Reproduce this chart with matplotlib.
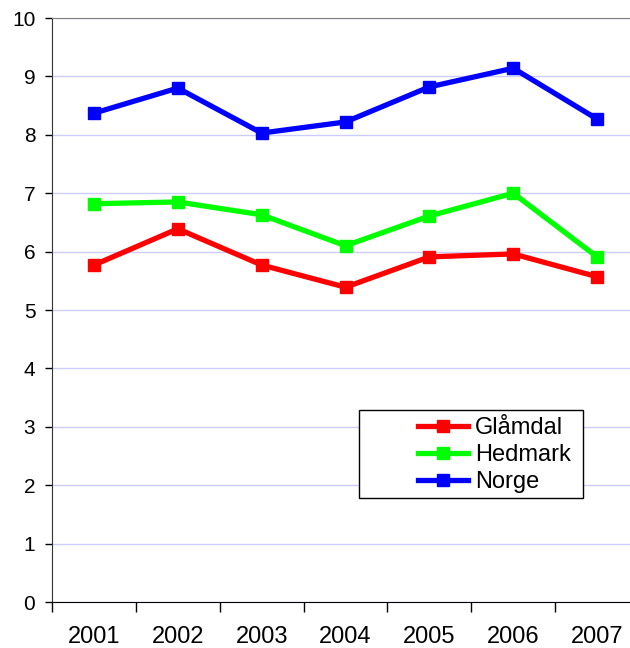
import matplotlib
matplotlib.use("Agg")
import matplotlib.pyplot as plt
from matplotlib.patches import Rectangle
import numpy as np

plt.rcParams['font.family'] = ['Liberation Sans', 'DejaVu Sans']

years = ["2001", "2002", "2003", "2004", "2005", "2006", "2007"]
glamdal = [5.77, 6.39, 5.77, 5.39, 5.91, 5.96, 5.57]
hedmark = [6.82, 6.85, 6.63, 6.10, 6.61, 7.00, 5.91]
norge = [8.37, 8.80, 8.03, 8.22, 8.82, 9.14, 8.27]

fig = plt.figure(figsize=(6.3, 6.48), dpi=100)
ax = fig.add_axes([52/630, 1-602/648, 587/630, 584/648])

x = np.arange(len(years))
for vals, col, lab in [(glamdal, '#ff0000', 'Glåmdal'),
                       (hedmark, '#00ff00', 'Hedmark'),
                       (norge, '#0000ff', 'Norge')]:
    ax.plot(x, vals, color=col, lw=3.8, marker='s', markersize=9,
            label=lab, solid_joinstyle='miter')

ax.set_xlim(-0.5, len(years)-0.5)
ax.set_ylim(0, 10)
ax.set_yticks(range(0, 11))
ax.set_xticks(x)
ax.set_xticklabels(years)
ax.set_xticks(np.arange(-0.5, len(years)), minor=True)
ax.tick_params(axis='x', which='major', length=0, labelsize=17, pad=17)
ax.tick_params(axis='x', which='minor', length=7, width=1, direction='out')
ax.tick_params(axis='y', length=5, width=1, labelsize=15, pad=7)
ax.grid(axis='y', color='#ccccff', lw=1)
ax.set_axisbelow(True)
ax.spines['top'].set_color('#808080')
ax.spines['right'].set_visible(False)
ax.spines['left'].set_color('#333333')

# legend frame
ax.add_patch(Rectangle((359/630, 1-498/648), 224/630, 88/648,
                       transform=fig.transFigure, facecolor='white',
                       edgecolor='black', lw=1, zorder=4, clip_on=False))
leg = ax.legend(loc='center right', bbox_to_anchor=(571/630, 1-455/648),
                bbox_transform=fig.transFigure, fontsize=17,
                frameon=False, borderpad=0, labelspacing=0.22,
                handlelength=2.1, handletextpad=0.3, borderaxespad=0)
leg.set_zorder(6)

fig.savefig('out.png', dpi=100)
